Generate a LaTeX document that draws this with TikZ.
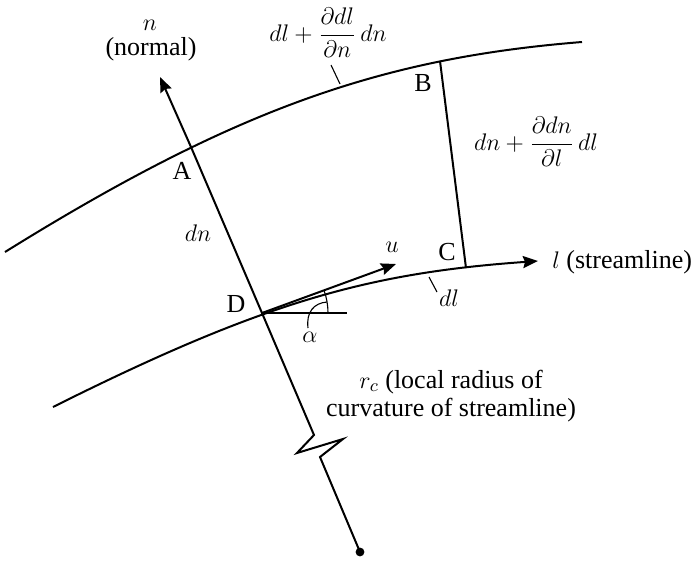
\documentclass[tikz,border=0pt]{standalone}
\usepackage{amsmath}
\usepackage{fontspec}
\setmainfont{Liberation Serif}
\usetikzlibrary{arrows.meta}

\begin{document}
\begin{tikzpicture}[x=0.5pt, y=-0.5pt, every node/.style={font=\fontsize{13}{14}\selectfont, inner sep=0pt},
   curve/.style={line width=1pt},
   arr/.style={curve, -{Stealth[length=7.5pt, width=6pt, inset=1pt]}},
   thin line/.style={line width=0.55pt}]
  \useasboundingbox (0,0) rectangle (696,562);
  \coordinate (A) at (191,147);
  \coordinate (B) at (440,61);
  \coordinate (C) at (466,268);
  \coordinate (D) at (262,313);
  \coordinate (ntip) at (160,77);
  \coordinate (z1) at (314,435);
  \coordinate (z2) at (297,453);
  \coordinate (z3) at (343,439);
  \coordinate (z4) at (320,457);
  \coordinate (O) at (360,552);
  \coordinate (utip) at (396,264);
  \coordinate (h) at (347,313);
  \coordinate (ltip) at (538,261);
  \draw[curve] (5,252) .. controls (235,109) and (382,58) .. (582,42);
  \draw[arr] (53,407) .. controls (263,302) and (368,273) .. (ltip);
  \draw[arr] (O) -- (z4) -- (z3) -- (z2) -- (z1) -- (D) -- (A) -- (ntip);
  \fill (O) circle[radius=2.2pt];
  \draw[curve] (B) -- (C);
  \draw[arr] (D) -- (utip);
  \draw[curve] (D) -- (h);
  \draw[thin line] (D) ++(66,0) arc[start angle=0, end angle=-19.8, radius=66];
  \draw[thin line] (308,328) .. controls (306,312) and (314,303) .. (327,302);
  \draw[thin line] (331,65) -- (340,84);
  \draw[thin line] (429,277) -- (437,292);
  \node[anchor=base] (nlab) at (150,30) {$n$};
  \node[anchor=base] (normal) at (151,55) {(normal)};
  \node (dllab) at (328,33) {$dl + \dfrac{\partial dl}{\partial n}\,dn$};
  \node (dnlab) at (536,142) {$dn + \dfrac{\partial dn}{\partial l}\,dl$};
  \node (Alab) at (182,171) {A};
  \node (Blab) at (423,83) {B};
  \node (Clab) at (447,252) {C};
  \node (Dlab) at (236,304) {D};
  \node (dn) at (198,233) {$dn$};
  \node (u) at (392,247) {$u$};
  \node[anchor=west] (l) at (552,262) {$l$ (streamline)};
  \node (dl) at (449,298) {$dl$};
  \node (alpha) at (310,337) {$\alpha$};
  \node[align=center] (rc) at (451,396) {$r_c$ (local radius of\\curvature of streamline)};
\end{tikzpicture}
\end{document}
